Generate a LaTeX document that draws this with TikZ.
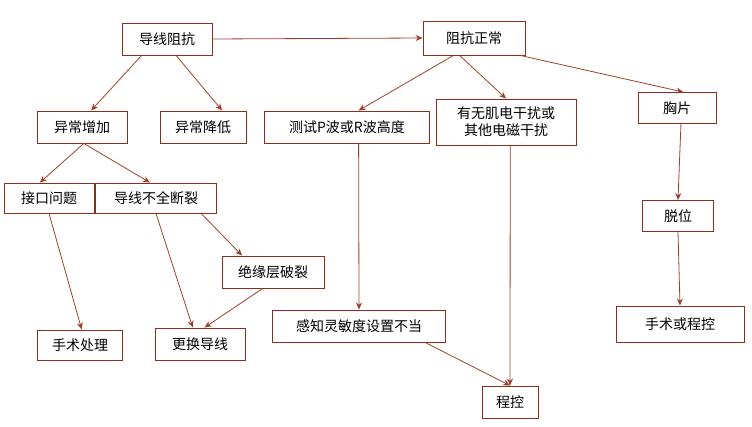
\documentclass[tikz,border=0pt]{standalone}
\usepackage{fontspec}
\setmainfont{Noto Sans CJK SC}
\usetikzlibrary{calc,arrows.meta}
\definecolor{bx}{HTML}{8B2E1E}
\definecolor{ar}{HTML}{A0402A}
\begin{document}
\begin{tikzpicture}[x=1pt,y=-1pt,
  box/.style={draw=bx,line width=0.9pt,inner sep=0pt,align=center,font=\fontsize{14}{17}\selectfont},
  arr/.style={draw=ar,line width=0.8pt,-{Stealth[length=7pt,width=6pt]}}]
\useasboundingbox (0,0) rectangle (752,427);
\node[box,minimum width=90,minimum height=32] (a) at (167,39) {导线阻抗};
\node[box,minimum width=102,minimum height=34] (b) at (474,38) {阻抗正常};
\node[box,minimum width=90,minimum height=32] (c) at (82,127) {异常增加};
\node[box,minimum width=86,minimum height=32] (d) at (203,127) {异常降低};
\node[box,minimum width=165,minimum height=32] (e) at (347,127) {测试P波或R波高度};
\node[box,minimum width=140,minimum height=46] (f) at (506,122) {有无肌电干扰或\\其他电磁干扰};
\node[box,minimum width=78,minimum height=31] (g) at (677,108) {胸片};
\node[box,minimum width=90,minimum height=30] (h) at (49,198) {接口问题};
\node[box,minimum width=121,minimum height=30] (i) at (156,198) {导线不全断裂};
\node[box,minimum width=102,minimum height=32] (j) at (273,272) {绝缘层破裂};
\node[box,minimum width=71,minimum height=31] (k) at (678,216) {脱位};
\node[box,minimum width=173,minimum height=32] (l) at (359,326) {感知灵敏度设置不当};
\node[box,minimum width=128,minimum height=36] (m) at (680,324) {手术或程控};
\node[box,minimum width=85,minimum height=30] (n) at (80,345) {手术处理};
\node[box,minimum width=90,minimum height=32] (o) at (200,344) {更换导线};
\node[box,minimum width=56,minimum height=32] (p) at (510,402) {程控};
\draw[arr] (a.east) -- (b.west);
\draw[arr] ($(a.south west)!0.22!(a.south east)$) -- ($(c.north west)!0.6!(c.north east)$);
\draw[arr] ($(a.south west)!0.6!(a.south east)$) -- ($(d.north west)!0.72!(d.north east)$);
\draw[arr] ($(b.south west)!0.3!(b.south east)$) -- ($(e.north west)!0.57!(e.north east)$);
\draw[arr] ($(b.south west)!0.36!(b.south east)$) -- ($(f.north west)!0.5!(f.north east)$);
\draw[arr] ($(b.south west)!0.95!(b.south east)$) -- ($(g.north west)!0.58!(g.north east)$);
\draw[arr] ($(c.south west)!0.52!(c.south east)$) -- ($(h.north west)!0.4!(h.north east)$);
\draw[arr] ($(c.south west)!0.52!(c.south east)$) -- ($(i.north west)!0.45!(i.north east)$);
\draw[arr] ($(h.south west)!0.5!(h.south east)$) -- ($(n.north west)!0.52!(n.north east)$);
\draw[arr] ($(i.south west)!0.5!(i.south east)$) -- ($(o.north west)!0.42!(o.north east)$);
\draw[arr] ($(i.south west)!0.87!(i.south east)$) -- ($(j.north west)!0.2!(j.north east)$);
\draw[arr] ($(j.south west)!0.4!(j.south east)$) -- ($(o.north west)!0.55!(o.north east)$);
\draw[arr] ($(e.south west)!0.57!(e.south east)$) -- ($(l.north west)!0.5!(l.north east)$);
\draw[arr] ($(f.south west)!0.53!(f.south east)$) -- ($(p.north west)!0.5!(p.north east)$);
\draw[arr] ($(l.south west)!0.88!(l.south east)$) -- ($(p.north west)!0.5!(p.north east)$);
\draw[arr] ($(g.south west)!0.55!(g.south east)$) -- (k.north);
\draw[arr] (k.south) -- ($(m.north west)!0.5!(m.north east)$);
\end{tikzpicture}
\end{document}
